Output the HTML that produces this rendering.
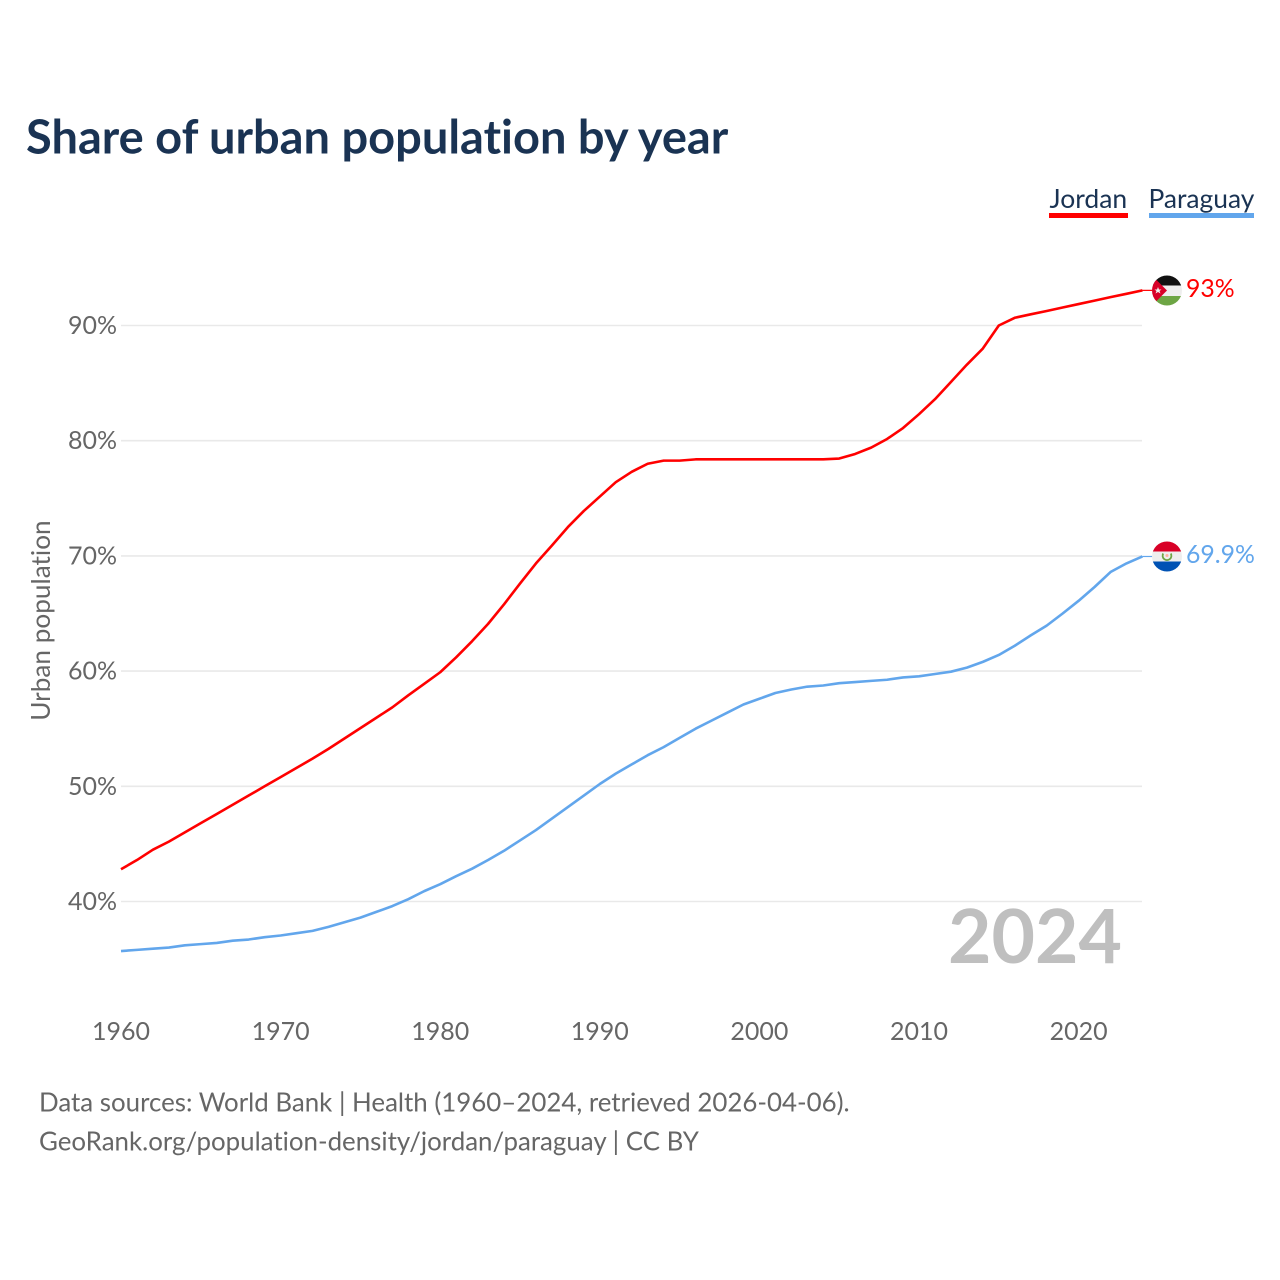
<!DOCTYPE html>
<html lang="en">
<head>
<meta charset="utf-8">
<title>Share of urban population by year</title>
<style>
html,body{margin:0;padding:0;background:#fff}
#chart{display:block;width:1280px;height:1280px;font-family:"Lato","Carlito","Liberation Sans",sans-serif}
text{font-family:"Lato","Carlito","Liberation Sans",sans-serif;font-variant-ligatures:none;font-feature-settings:"liga" 0,"clig" 0}
</style>
</head>
<body>
<svg id="chart" xmlns="http://www.w3.org/2000/svg" width="1280" height="1280" viewBox="0 0 1280 1280">
  <rect width="1280" height="1280" fill="#fff"/>
  <text x="26" y="153.5" font-size="47" font-weight="700" fill="#1a3353">Share of urban population by year</text>
  <g id="gridlines"></g>
  <g id="y-ticks"></g>
  <g id="x-ticks"></g>
  <text transform="translate(50,620.5) rotate(-90)" text-anchor="middle" font-size="26.2" fill="#666">Urban population</text>
  <text x="1122" y="963" text-anchor="end" font-size="75" font-weight="700" fill="#bfbfbf">2024</text>
  <g id="series"></g>

  <g>
    <text x="1049.5" y="208" font-size="26.5" fill="#1a3353">Jordan</text>
    <rect x="1049" y="213" width="79" height="5" fill="#ff0000"/>
  </g>
  <g>
    <text x="1148.5" y="208" font-size="26.4" fill="#1a3353">Paraguay</text>
    <rect x="1149" y="213" width="105" height="5" fill="#62a6ec"/>
  </g>

  <defs>
    <clipPath id="clip-jo"><circle cx="1167" cy="290.5" r="15"/></clipPath>
    <clipPath id="clip-py"><circle cx="1167" cy="556.5" r="15"/></clipPath>
  </defs>
  <g clip-path="url(#clip-jo)">
    <rect x="1152" y="275" width="30" height="10.5" fill="#111"/>
    <rect x="1152" y="285.5" width="30" height="10.5" fill="#eee"/>
    <rect x="1152" y="296" width="30" height="10" fill="#6da544"/>
    <polygon points="1152,275.5 1167,290.5 1152,305.5" fill="#d80027"/>
    <polygon points="1158,287 1159,289.5 1161.5,289.5 1159.5,291 1160.5,293.5 1158,292 1155.5,293.5 1156.5,291 1154.5,289.5 1157,289.5" fill="#eee"/>
  </g>
  <g clip-path="url(#clip-py)">
    <rect x="1152" y="541" width="30" height="10.5" fill="#d80027"/>
    <rect x="1152" y="551.5" width="30" height="10" fill="#eee"/>
    <rect x="1152" y="561.5" width="30" height="10.5" fill="#0052b4"/>
    <path d="M1163.2 553.5a4.4 4.4 0 1 0 7.6 0" fill="none" stroke="#6da544" stroke-width="1.8"/>
    <circle cx="1167" cy="555.5" r="1.5" fill="#ffb0a0"/>
  </g>
  <text x="1186" y="297" font-size="24.8" fill="#ff0000">93%</text>
  <text x="1186" y="563" font-size="24.8" fill="#62a6ec">69.9%</text>

  <text x="39" y="1111.5" font-size="25.88" fill="#666">Data sources: World Bank | Health (1960–2024, retrieved 2026-04-06).</text>
  <text x="39" y="1150.5" font-size="25.88" fill="#666">GeoRank.org/population-density/jordan/paraguay | CC BY</text>
</svg>
<script>
const years = [1960,1961,1962,1963,1964,1965,1966,1967,1968,1969,1970,1971,1972,1973,1974,1975,1976,1977,1978,1979,1980,1981,1982,1983,1984,1985,1986,1987,1988,1989,1990,1991,1992,1993,1994,1995,1996,1997,1998,1999,2000,2001,2002,2003,2004,2005,2006,2007,2008,2009,2010,2011,2012,2013,2014,2015,2016,2017,2018,2019,2020,2021,2022,2023,2024];
const jordanValues = [42.8,43.6,44.5,45.2,46.0,46.8,47.6,48.4,49.2,50.0,50.8,51.6,52.4,53.25,54.15,55.05,55.95,56.85,57.9,58.9,59.9,61.2,62.6,64.1,65.8,67.6,69.35,70.9,72.5,73.9,75.15,76.4,77.3,78.0,78.27,78.27,78.38,78.38,78.38,78.38,78.38,78.38,78.38,78.38,78.38,78.45,78.85,79.4,80.15,81.1,82.3,83.6,85.1,86.6,88.0,90.0,90.67,90.97,91.26,91.56,91.86,92.16,92.46,92.75,93.05];
const paraguayValues = [35.7,35.8,35.9,36.0,36.2,36.3,36.4,36.6,36.7,36.9,37.05,37.25,37.45,37.8,38.2,38.6,39.1,39.6,40.2,40.9,41.5,42.2,42.85,43.6,44.4,45.3,46.2,47.2,48.2,49.2,50.2,51.1,51.9,52.7,53.4,54.2,55.0,55.7,56.4,57.1,57.6,58.1,58.4,58.65,58.75,58.95,59.05,59.15,59.25,59.45,59.55,59.75,59.95,60.3,60.8,61.4,62.2,63.1,63.95,65.0,66.1,67.3,68.6,69.35,69.95];
const yTickValues = [40,50,60,70,80,90];
const xTickValues = [1960,1970,1980,1990,2000,2010,2020];

const SVG_NS = 'http://www.w3.org/2000/svg';
function xScale(year) { return 121 + (year - 1960) * (1078.6 - 121) / 60; }
function yScale(value) { return 901.5 - (value - 40) * 11.52; }
function make(tag, attrs, text) {
  const el = document.createElementNS(SVG_NS, tag);
  for (const k in attrs) el.setAttribute(k, attrs[k]);
  if (text !== undefined) el.textContent = text;
  return el;
}

const gridG = document.getElementById('gridlines');
const yG = document.getElementById('y-ticks');
yTickValues.forEach(function (v) {
  const line = make('line', {x1: 121, x2: 1142, y1: yScale(v), y2: yScale(v), stroke: '#e9e9e9', 'stroke-width': 1.6});
  
  
  gridG.appendChild(line);
  const label = make('text', {x: 117, y: yScale(v) + 8.5, 'text-anchor': 'end', 'font-size': 25, fill: '#666'}, v + '%');
  
  
  yG.appendChild(label);
});

const xG = document.getElementById('x-ticks');
xTickValues.forEach(function (y) {
  const label = make('text', {x: xScale(y), y: 1040, 'text-anchor': 'middle', 'font-size': 25, fill: '#666'}, String(y));
  
  
  xG.appendChild(label);
});

function pathFor(values) {
  return values.map(function (v, i) {
    return (i ? 'L' : 'M') + xScale(years[i]).toFixed(2) + ' ' + yScale(v).toFixed(2);
  }).join(' ');
}
function connector(values, name, color) {
  const lastY = yScale(values[values.length - 1]);
  const line = make('line', {x1: xScale(years[years.length - 1]), x2: 1153, y1: lastY, y2: lastY, stroke: color, 'stroke-width': 1.2});
  
  
  return line;
}
const seriesG = document.getElementById('series');
const paraguayLine = make('path', {d: pathFor(paraguayValues), fill: 'none', stroke: '#62a6ec', 'stroke-width': 2.6, 'stroke-linejoin': 'round'});


seriesG.appendChild(paraguayLine);
seriesG.appendChild(connector(paraguayValues, 'paraguay-flag-connector', '#62a6ec'));
const jordanLine = make('path', {d: pathFor(jordanValues), fill: 'none', stroke: '#ff0000', 'stroke-width': 2.6, 'stroke-linejoin': 'round'});


seriesG.appendChild(jordanLine);
seriesG.appendChild(connector(jordanValues, 'jordan-flag-connector', '#ff0000'));
</script>
</body>
</html>
